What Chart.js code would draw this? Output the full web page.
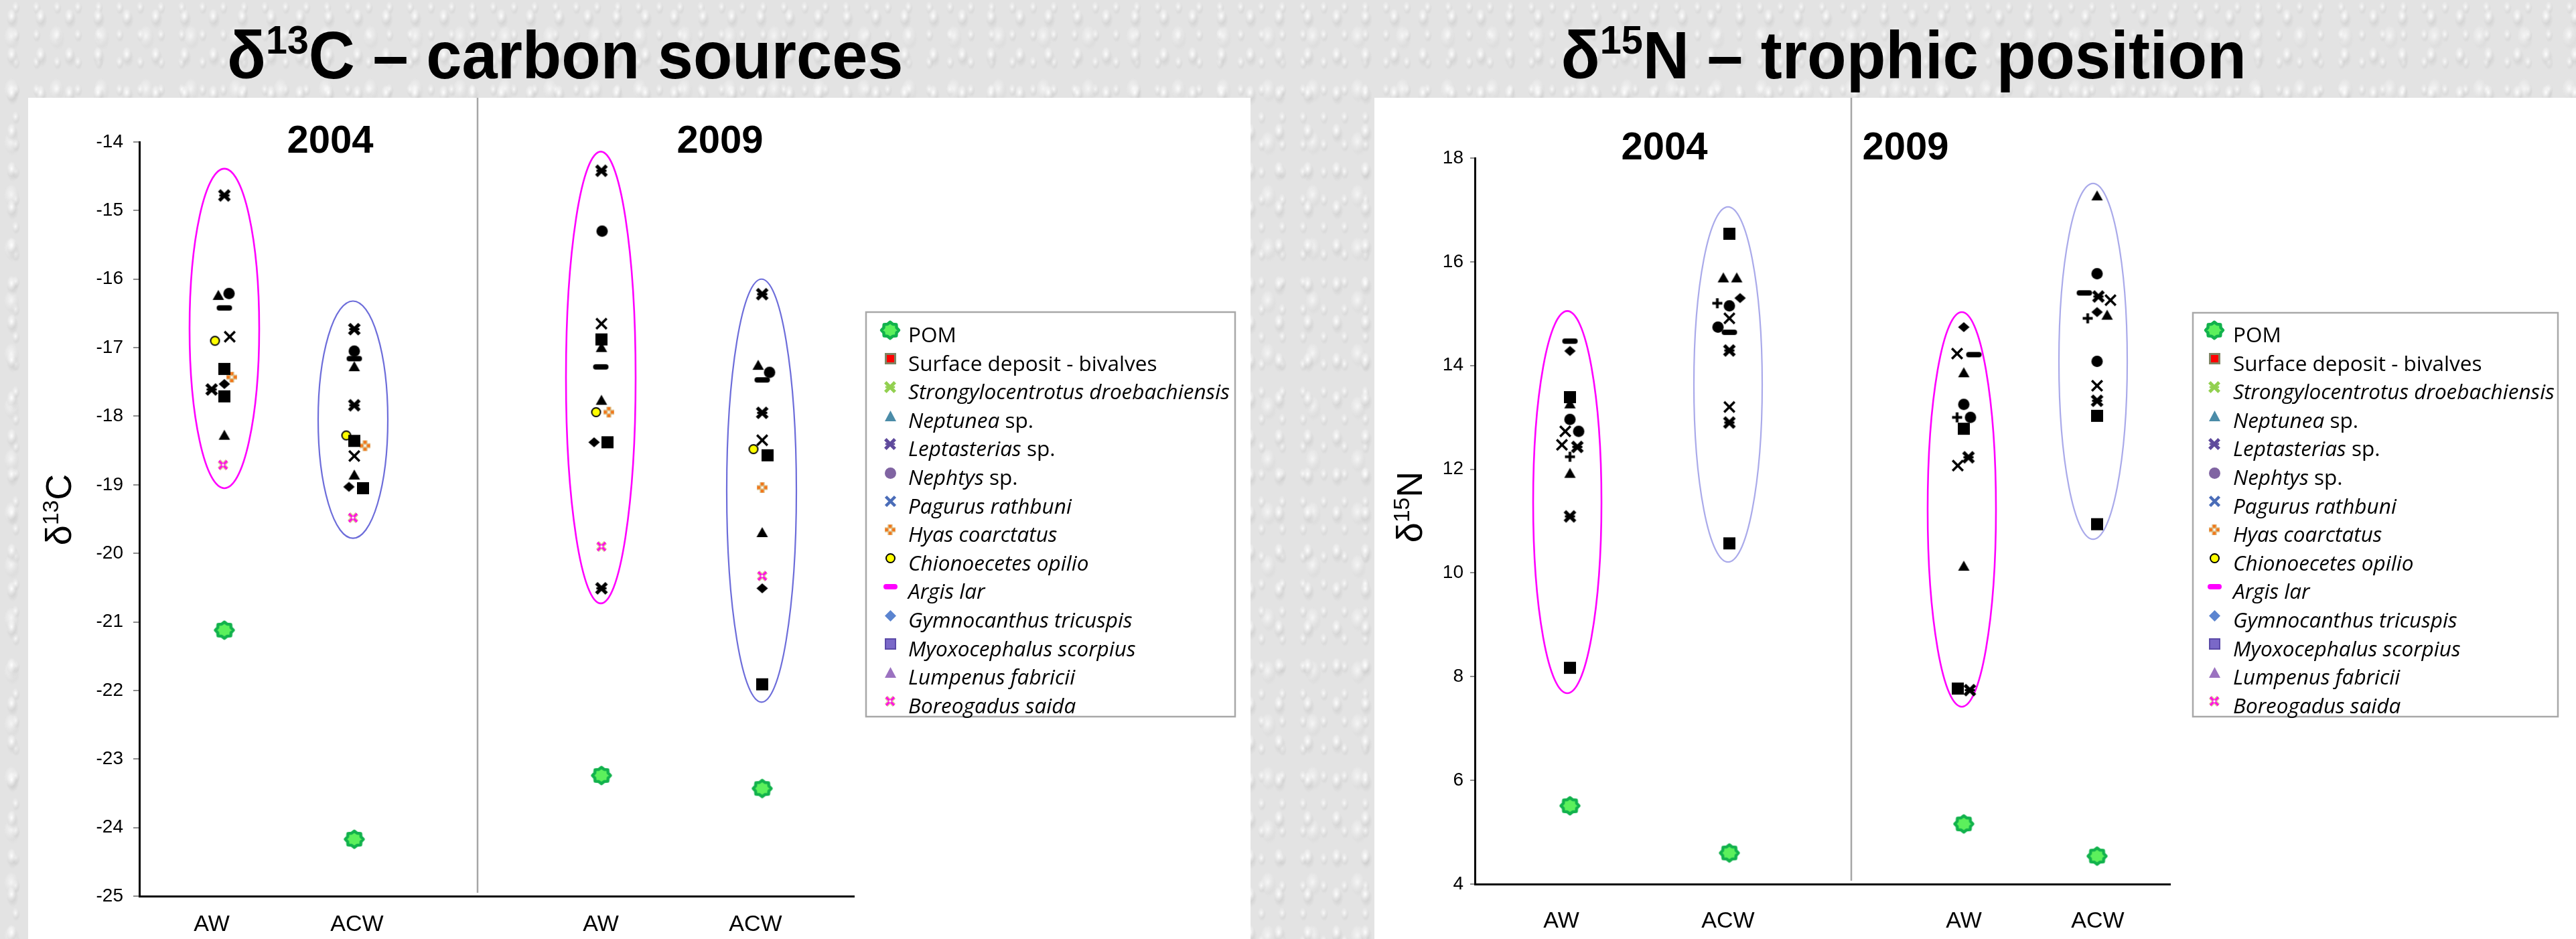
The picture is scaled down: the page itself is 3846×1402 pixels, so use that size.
<!DOCTYPE html>
<html>
<head>
<meta charset="utf-8">
<script src="https://cdn.jsdelivr.net/npm/chart.js@4.4.1/dist/chart.umd.min.js"></script>
<style>
html,body{margin:0;padding:0;}
body{width:3846px;height:1402px;overflow:hidden;position:relative;
 background-color:#e3e3e3;
 background-image:
  radial-gradient(ellipse 9px 15px at 40% 42%, rgba(255,255,255,0.95), rgba(255,255,255,0) 75%),
  radial-gradient(ellipse 12px 18px at 44% 52%, rgba(165,165,165,0.35), rgba(165,165,165,0) 75%),
  radial-gradient(ellipse 14px 21px at 25% 68%, rgba(255,255,255,0.75), rgba(255,255,255,0) 75%),
  radial-gradient(ellipse 15px 22px at 28% 74%, rgba(175,175,175,0.28), rgba(175,175,175,0) 75%),
  radial-gradient(ellipse 7px 11px at 75% 25%, rgba(255,255,255,0.85), rgba(255,255,255,0) 75%),
  radial-gradient(ellipse 8px 13px at 78% 31%, rgba(160,160,160,0.3), rgba(160,160,160,0) 75%);
 background-size: 43px 57px, 43px 57px, 67px 79px, 67px 79px, 31px 41px, 31px 41px;
}
.panel{position:absolute;background:#fff;}
.title{position:absolute;white-space:nowrap;font:bold 100px "Liberation Sans",Arial,sans-serif;line-height:100px;color:#000;}
.title .sup{font-size:60%;position:relative;top:-0.62em;}
canvas{position:absolute;}
</style>
</head>
<body>
<div class="panel" style="left:42px;top:146px;width:1825px;height:1256px"></div>
<div class="panel" style="left:2052px;top:146px;width:1794px;height:1256px"></div>
<div class="title" id="t1">δ<span class="sup">13</span>C – carbon sources</div>
<div class="title" id="t2">δ<span class="sup">15</span>N – trophic position</div>
<canvas id="c1" width="1825" height="1256" style="left:42px;top:146px"></canvas>
<canvas id="c2" width="1794" height="1256" style="left:2052px;top:146px"></canvas>
<script>
// ================= DATA =================
const groupLabels = ['AW', 'ACW', 'AW', 'ACW'];
const yearLabels = ['2004', '2009'];
const pomName = 'POM';
const speciesNames = ['Surface deposit - bivalves', 'Strongylocentrotus droebachiensis', 'Neptunea sp.',
  'Leptasterias sp.', 'Nephtys sp.', 'Pagurus rathbuni', 'Hyas coarctatus', 'Chionoecetes opilio',
  'Argis lar', 'Gymnocanthus tricuspis', 'Myoxocephalus scorpius', 'Lumpenus fabricii', 'Boreogadus saida'];
const speciesItalic = [false, true, true, true, true, true, true, true, true, true, true, true, true];

const c13Ticks = [-14, -15, -16, -17, -18, -19, -20, -21, -22, -23, -24, -25];
const c13TickLabels = ['-14', '-15', '-16', '-17', '-18', '-19', '-20', '-21', '-22', '-23', '-24', '-25'];
const n15Ticks = [18, 16, 14, 12, 10, 8, 6, 4];
const n15TickLabels = ['18', '16', '14', '12', '10', '8', '6', '4'];

// d13C (species order as speciesNames)
const c13_POM     = [-21.12, -24.17, -23.24, -23.43];
const c13_AW2004  = [-17.31, -14.78, -16.23, -17.61, -16.21, -16.84, -17.43, -16.90, -16.42, -17.53, -17.71, -18.27, -18.71];
const c13_ACW2004 = [-18.36, -16.73, -17.27, -17.84, -17.05, -18.58, -18.43, -18.28, -17.16, -19.03, -19.05, -18.85, -19.48];
const c13_AW2009  = [-16.88, -14.42, -16.99, -20.51, -15.30, -16.65, -17.94, -17.94, -17.28, -18.38, -18.38, -17.76, -19.90];
const c13_ACW2009 = [-18.57, -16.22, -17.25, -17.95, -17.36, -18.35, -19.04, -18.48, -17.47, -20.51, -21.91, -19.69, -20.33];
// side-by-side jitter of overlapping markers (x units)
const c13_jit_AW2004  = [0, 0, -0.09, -0.19, 0.07, 0.08, 0.11, -0.14, 0, 0, 0, 0, -0.02];
const c13_jit_ACW2004 = [0, 0, 0, 0, 0, 0, 0.16, -0.12, 0, -0.08, 0.13, 0, -0.02];
const c13_jit_AW2009  = [0, 0, 0, 0, 0.01, 0, 0.11, -0.08, -0.01, -0.11, 0.09, 0, 0];
const c13_jit_ACW2009 = [0.08, 0, -0.06, 0, 0.11, 0, 0, -0.13, 0, 0, 0, 0, 0];
const c13EllipseTop    = [-14.39, -16.32, -14.14, -16.00];
const c13EllipseBottom = [-19.05, -19.78, -20.73, -22.17];

// d15N
const n15_POM     = [5.51, 4.60, 5.16, 4.54];
const n15_AW2004  = [13.39, 12.43, 13.27, 11.09, 12.96, 12.73, 12.24, 12.73, 14.47, 14.28, 8.17, 11.93, 12.47];
const n15_ACW2004 = [16.54, 14.29, 15.70, 12.90, 15.15, 14.91, 15.20, 14.74, 14.64, 15.30, 10.57, 15.70, 13.20];
const n15_AW2009  = [12.78, 12.23, 13.87, 7.74, 13.25, 14.23, 13.00, 13.00, 14.21, 14.74, 7.77, 10.14, 12.07];
const n15_ACW2009 = [13.03, 15.33, 17.28, 13.32, 15.77, 15.26, 14.91, 14.08, 15.40, 15.03, 10.94, 14.98, 13.61];
const n15_jit_AW2004  = [0, 0.11, 0, 0, 0, -0.07, 0, 0.13, 0, 0, 0, 0, -0.12];
const n15_jit_ACW2004 = [0, 0, -0.09, 0, 0, 0, -0.18, -0.17, 0, 0.16, 0, 0.11, 0];
const n15_jit_AW2009  = [0, 0.07, 0, 0.09, 0, -0.10, -0.10, 0.10, 0.15, 0, -0.09, 0, -0.09];
const n15_jit_ACW2009 = [0, 0.02, 0, 0, 0, 0.20, -0.14, 0, -0.19, 0, 0, 0.15, 0];
const n15EllipseTop    = [15.05, 17.06, 15.03, 17.51];
const n15EllipseBottom = [7.68, 10.21, 7.42, 10.65];

// ================= LAYOUT (x units) =================
const c13GroupX = [1.27, 3.21, 6.90, 9.30];
const c13LabelX = [1.08, 3.25, 6.89, 9.20];
const c13EllipseX = [1.27, 3.19, 6.89, 9.29];
const c13YearX = [2.85, 8.67];
const n15GroupX = [1.42, 3.80, 7.30, 9.29];
const n15LabelX = [1.29, 3.78, 7.30, 9.30];
const n15EllipseX = [1.38, 3.78, 7.27, 9.23];
const n15YearX = [2.83, 6.43];

const FONT = '"Liberation Sans", Arial, sans-serif';
const LEG_FONT = '"Open Sans", "Liberation Sans", sans-serif';

// ================= MARKERS =================
function mc(w, h, fn) {
  const c = document.createElement('canvas');
  c.width = Math.ceil(w); c.height = Math.ceil(h);
  const g = c.getContext('2d');
  g.translate(c.width / 2, c.height / 2);
  fn(g);
  return c;
}
const mk = {
  square: (s, fill, stroke, lw) => mc(s + 2, s + 2, g => {
    g.fillStyle = fill; g.fillRect(-s / 2, -s / 2, s, s);
    if (stroke) { g.strokeStyle = stroke; g.lineWidth = lw; g.strokeRect(-s / 2 + lw / 2, -s / 2 + lw / 2, s - lw, s - lw); }
  }),
  triangle: (w, h, fill) => mc(w + 2, h + 2, g => {
    g.fillStyle = fill; g.beginPath(); g.moveTo(0, -h / 2); g.lineTo(w / 2, h / 2); g.lineTo(-w / 2, h / 2); g.closePath(); g.fill();
  }),
  circle: (d, fill, stroke, lw) => mc(d + 4, d + 4, g => {
    g.beginPath(); g.arc(0, 0, d / 2 - (stroke ? lw / 2 : 0), 0, Math.PI * 2);
    g.fillStyle = fill; g.fill();
    if (stroke) { g.strokeStyle = stroke; g.lineWidth = lw; g.stroke(); }
  }),
  diamond: (w, h, fill) => mc(w + 2, h + 2, g => {
    g.fillStyle = fill; g.beginPath(); g.moveTo(0, -h / 2); g.lineTo(w / 2, 0); g.lineTo(0, h / 2); g.lineTo(-w / 2, 0); g.closePath(); g.fill();
  }),
  dash: (w, h, fill) => mc(w + 2, h + 2, g => {
    const r = h / 2; g.fillStyle = fill; g.beginPath();
    g.moveTo(-w / 2 + r, -h / 2); g.lineTo(w / 2 - r, -h / 2); g.arc(w / 2 - r, 0, r, -Math.PI / 2, Math.PI / 2);
    g.lineTo(-w / 2 + r, h / 2); g.arc(-w / 2 + r, 0, r, Math.PI / 2, Math.PI * 1.5); g.closePath(); g.fill();
  }),
  xThin: (s, col, lw) => mc(s + 4, s + 4, g => {
    const a = s / 2 - lw / 3; g.strokeStyle = col; g.lineWidth = lw; g.beginPath();
    g.moveTo(-a, -a); g.lineTo(a, a); g.moveTo(a, -a); g.lineTo(-a, a); g.stroke();
  }),
  xBold: (s, col) => mc(s + 4, s + 4, g => {
    const a = s / 2 - s * 0.1; g.strokeStyle = col; g.lineWidth = s * 0.28; g.beginPath();
    g.moveTo(-a, -a); g.lineTo(a, a); g.moveTo(a, -a); g.lineTo(-a, a); g.stroke();
    g.lineWidth = s * 0.16; g.beginPath(); g.moveTo(-s * 0.4, 0); g.lineTo(s * 0.4, 0); g.stroke();
  }),
  plus: (s, col, lw) => mc(s + 2, s + 2, g => {
    g.strokeStyle = col; g.lineWidth = lw; g.beginPath();
    g.moveTo(-s / 2, 0); g.lineTo(s / 2, 0); g.moveTo(0, -s / 2); g.lineTo(0, s / 2); g.stroke();
  }),
  hyas: (s) => mc(s + 2, s + 2, g => {
    const u = s / 3;
    g.fillStyle = '#dcbc84'; g.fillRect(-u * 1.5, -u / 2 - 1, 3 * u, u + 2); g.fillRect(-u / 2 - 1, -u * 1.5, u + 2, 3 * u);
    g.fillStyle = '#f2761a'; const q = u * 0.8;
    [[0, -u], [0, u], [-u, 0], [u, 0]].forEach(([x, y]) => g.fillRect(x - q / 2, y - q / 2, q, q));
    g.fillStyle = '#fff'; g.fillRect(-q / 3, -q / 3, q * 2 / 3, q * 2 / 3);
  }),
  boreo: (s) => mc(s + 4, s + 4, g => {
    const a = s / 2 - 2;
    g.strokeStyle = '#dccb9c'; g.lineWidth = s * 0.38; g.beginPath();
    g.moveTo(-a, -a); g.lineTo(a, a); g.moveTo(a, -a); g.lineTo(-a, a); g.stroke();
    g.strokeStyle = '#ff14e0'; g.lineWidth = s * 0.2; g.beginPath();
    g.moveTo(-a, -a); g.lineTo(a, a); g.moveTo(a, -a); g.lineTo(-a, a); g.stroke();
    g.fillStyle = '#fff'; g.fillRect(-1.5, -1.5, 3, 3);
  }),
  pom: (w, h) => mc(w + 4, h + 4, g => {
    const n = 8, ro = w / 2 - 2, ri = ro * 0.8;
    g.beginPath();
    for (let i = 0; i < 2 * n; i++) {
      const r = i % 2 ? ri : ro, ang = -Math.PI / 2 + i * Math.PI / n;
      g.lineTo(r * Math.cos(ang), r * Math.sin(ang) * h / w);
    }
    g.closePath(); g.fillStyle = '#5cf05c'; g.fill();
    g.strokeStyle = '#12b24c'; g.lineWidth = 4.5; g.lineJoin = 'round'; g.stroke();
  })
};

const B = '#000';
const pk = {
  sq: mk.square(18, B), tri: mk.triangle(17, 15, B), circ: mk.circle(17, B), xb: mk.xBold(19, B),
  xt: mk.xThin(18, B, 3.6), dash: mk.dash(23, 8, B), dia: mk.diamond(17, 15, B),
  yel: mk.circle(15, '#ffff00', B, 2), plus: mk.plus(15, B, 4), hyas: mk.hyas(16), boreo: mk.boreo(16),
  pom: mk.pom(31, 28)
};
const c13Markers = [pk.sq, pk.xb, pk.tri, pk.xb, pk.circ, pk.xt, pk.hyas, pk.yel, pk.dash, pk.dia, pk.sq, pk.tri, pk.boreo];
const n15Markers = [pk.sq, pk.xb, pk.tri, pk.xb, pk.circ, pk.xt, pk.plus, pk.circ, pk.dash, pk.dia, pk.sq, pk.tri, pk.xt];
const legendMarkers = [
  mk.pom(30, 28),
  mk.square(17, '#ff0000', '#7f8464', 3),
  mk.xBold(18, '#92d050'),
  mk.triangle(17, 16, '#4b8ca8'),
  mk.xBold(18, '#5f4a9c'),
  mk.circle(17, '#8064a2'),
  mk.xThin(17, '#4a6cb8', 4.5),
  mk.hyas(16),
  mk.circle(15, '#ffff00', B, 2),
  mk.dash(21, 8, '#ff00ff'),
  mk.diamond(17, 17, '#5b84d0'),
  mk.square(17, '#7a68c8', '#5b4aa8', 2),
  mk.triangle(17, 16, '#9b72c0'),
  mk.boreo(16)
];

// ================= DRAW HELPERS =================
function legendItems() {
  const items = [[[pomName, false]]];
  speciesNames.forEach((n, i) => {
    if (!speciesItalic[i]) items.push([[n, false]]);
    else if (n.endsWith(' sp.')) items.push([[n.slice(0, -4), true], [' sp.', false]]);
    else items.push([[n, true]]);
  });
  return items;
}
function legendFontSize(ctx) {
  ctx.font = 'italic 100px ' + LEG_FONT;
  const w = ctx.measureText(speciesNames[1]).width;
  return 100 * 480 / w;
}
function drawLegend(ctx, L) {
  ctx.save();
  ctx.strokeStyle = '#a8a8a8'; ctx.lineWidth = 2.5;
  ctx.strokeRect(L.x, L.y, L.w, L.h);
  const fs = legendFontSize(ctx);
  legendItems().forEach((it, i) => {
    const base = L.base0 + i * L.step;
    const m = legendMarkers[i];
    ctx.drawImage(m, Math.round(L.mx - m.width / 2), Math.round(base - L.mOff - m.height / 2));
    let tx = L.tx;
    ctx.fillStyle = '#000'; ctx.textBaseline = 'alphabetic'; ctx.textAlign = 'left';
    it.forEach(([t, ital]) => {
      ctx.font = (ital ? 'italic ' : '') + fs + 'px ' + LEG_FONT;
      ctx.fillText(t, tx, base);
      tx += ctx.measureText(t).width;
    });
  });
  ctx.restore();
}
function drawRotTitle(ctx, parts, cx, cy, fs) {
  ctx.save();
  ctx.translate(cx, cy); ctx.rotate(-Math.PI / 2);
  let total = 0;
  parts.forEach(([t, sup]) => { ctx.font = (sup ? fs * 0.62 : fs) + 'px ' + FONT; total += ctx.measureText(t).width; });
  let x = -total / 2;
  ctx.fillStyle = '#000'; ctx.textBaseline = 'alphabetic'; ctx.textAlign = 'left';
  parts.forEach(([t, sup]) => {
    ctx.font = (sup ? fs * 0.62 : fs) + 'px ' + FONT;
    ctx.fillText(t, x, sup ? 0 : fs * 0.36);
    x += ctx.measureText(t).width;
  });
  ctx.restore();
}

function makeDecor(o) {
  return {
    id: 'decor',
    beforeDatasetsDraw(chart) {
      const { ctx, chartArea: ca, scales: { x, y } } = chart;
      ctx.save();
      const dx = x.getPixelForValue(o.dividerX);
      ctx.strokeStyle = '#a6a6a6'; ctx.lineWidth = 2.5;
      ctx.beginPath(); ctx.moveTo(dx, 0); ctx.lineTo(dx, ca.bottom - 5); ctx.stroke();
      o.ellX.forEach((ex, i) => {
        const cx = x.getPixelForValue(ex);
        const rx = x.getPixelForValue(ex + o.ellHW) - cx;
        const t = y.getPixelForValue(o.ellTop[i]), b = y.getPixelForValue(o.ellBottom[i]);
        ctx.beginPath(); ctx.ellipse(cx, (t + b) / 2, rx, (b - t) / 2, 0, 0, Math.PI * 2);
        ctx.strokeStyle = o.ellColors[i]; ctx.lineWidth = o.ellLW[i]; ctx.stroke();
      });
      ctx.restore();
    },
    afterDraw(chart) {
      const { ctx, scales: { x, y } } = chart;
      ctx.save();
      ctx.fillStyle = '#000'; ctx.font = 'bold 58px ' + FONT; ctx.textAlign = 'center'; ctx.textBaseline = 'middle';
      yearLabels.forEach((t, i) => ctx.fillText(t, x.getPixelForValue(o.yearX[i]), y.getPixelForValue(o.yearY)));
      ctx.restore();
      drawRotTitle(ctx, o.yTitle, o.yTitlePos[0], o.yTitlePos[1], 54);
      drawLegend(ctx, o.legend);
    }
  };
}

function buildDatasets(groupX, vals, jits, pom, markers) {
  const ds = [{
    label: pomName, data: groupX.map((gx, g) => ({ x: gx, y: pom[g] })), pointStyle: pk.pom,
    pointRadius: 14, pointHoverRadius: 14
  }];
  speciesNames.forEach((n, i) => {
    ds.push({
      label: n, data: groupX.map((gx, g) => ({ x: gx + jits[g][i], y: vals[g][i] })),
      pointStyle: markers[i], pointRadius: 9, pointHoverRadius: 9
    });
  });
  return ds;
}

function makeChart(id, o) {
  return new Chart(document.getElementById(id), {
    type: 'scatter',
    data: { datasets: o.datasets },
    options: {
      responsive: false, animation: false, devicePixelRatio: 1,
      layout: { padding: { left: 0, top: o.top, right: o.right, bottom: 0 } },
      plugins: { legend: { display: false }, tooltip: { enabled: false } },
      scales: {
        x: {
          type: 'linear', min: 0, max: o.xMax,
          afterBuildTicks: s => { s.ticks = o.labelX.map(v => ({ value: v })); },
          afterFit: s => { s.height = o.xH; },
          ticks: { autoSkip: false, maxRotation: 0, padding: o.xPad, color: '#000',
            font: { family: FONT, size: 34 }, callback: (v, i) => groupLabels[i] },
          grid: { display: false },
          border: { display: true, color: '#000', width: 3 }
        },
        y: {
          type: 'linear', min: o.yMin, max: o.yMax,
          afterBuildTicks: s => { s.ticks = o.ticks.map(v => ({ value: v })); },
          afterFit: s => { s.width = o.yW; },
          ticks: { autoSkip: false, padding: o.yPad, color: '#000',
            font: { family: FONT, size: 28 }, callback: (v, i) => o.tickLabels[i] },
          grid: { display: true, drawOnChartArea: false, drawTicks: true, tickLength: o.tickLen, color: '#8c8c8c', lineWidth: 2 },
          border: { display: true, color: '#000', width: 3 }
        }
      }
    },
    plugins: [makeDecor(o.decor)]
  });
}

// ================= CHARTS =================
makeChart('c1', {
  datasets: buildDatasets(c13GroupX, [c13_AW2004, c13_ACW2004, c13_AW2009, c13_ACW2009],
    [c13_jit_AW2004, c13_jit_ACW2004, c13_jit_AW2009, c13_jit_ACW2009], c13_POM, c13Markers),
  top: 66, right: 592, xMax: 10.67, xH: 64, yW: 166, xPad: 14, yPad: 15, tickLen: 9,
  yMin: -25, yMax: -14, ticks: c13Ticks, tickLabels: c13TickLabels, labelX: c13LabelX,
  decor: {
    dividerX: 5.05, ellX: c13EllipseX, ellHW: 0.52, ellTop: c13EllipseTop, ellBottom: c13EllipseBottom,
    ellColors: ['#ff00ff', '#6d6dda', '#ff00ff', '#6d6dda'], ellLW: [2.6, 2.2, 2.6, 2.2],
    yearX: c13YearX, yearY: -14.0,
    yTitle: [['δ', false], ['13', true], ['C', false]], yTitlePos: [45, 615],
    legend: { x: 1251, y: 320, w: 551, h: 604, base0: 365, step: 42.6, mx: 1287, mOff: 18, tx: 1314 }
  }
});
makeChart('c2', {
  datasets: buildDatasets(n15GroupX, [n15_AW2004, n15_ACW2004, n15_AW2009, n15_ACW2009],
    [n15_jit_AW2004, n15_jit_ACW2004, n15_jit_AW2009, n15_jit_ACW2009], n15_POM, n15Markers),
  top: 90, right: 606, xMax: 10.38, xH: 82, yW: 150, xPad: 27, yPad: 10, tickLen: 7,
  yMin: 4, yMax: 18, ticks: n15Ticks, tickLabels: n15TickLabels, labelX: n15LabelX,
  decor: {
    dividerX: 5.62, ellX: n15EllipseX, ellHW: 0.51, ellTop: n15EllipseTop, ellBottom: n15EllipseBottom,
    ellColors: ['#ff00ff', '#aaaaea', '#ff00ff', '#aaaaea'], ellLW: [2.6, 2.2, 2.6, 2.2],
    yearX: n15YearX, yearY: 18.18,
    yTitle: [['δ', false], ['15', true], ['N', false]], yTitlePos: [52, 611],
    legend: { x: 1222, y: 321, w: 545, h: 603, base0: 365, step: 42.6, mx: 1254, mOff: 18, tx: 1282 }
  }
});

// ================= TITLES =================
function placeTitle(id, cx, baseline, width) {
  const el = document.getElementById(id);
  const w = el.offsetWidth;
  el.style.left = (cx - w / 2) + 'px';
  el.style.top = (baseline - 85) + 'px';
  el.style.transformOrigin = '50% 0';
  el.style.transform = 'scaleX(' + (width / w) + ')';
}
placeTitle('t1', 844, 117, 1010);
placeTitle('t2', 2842, 117, 1023);
</script>
</body>
</html>
